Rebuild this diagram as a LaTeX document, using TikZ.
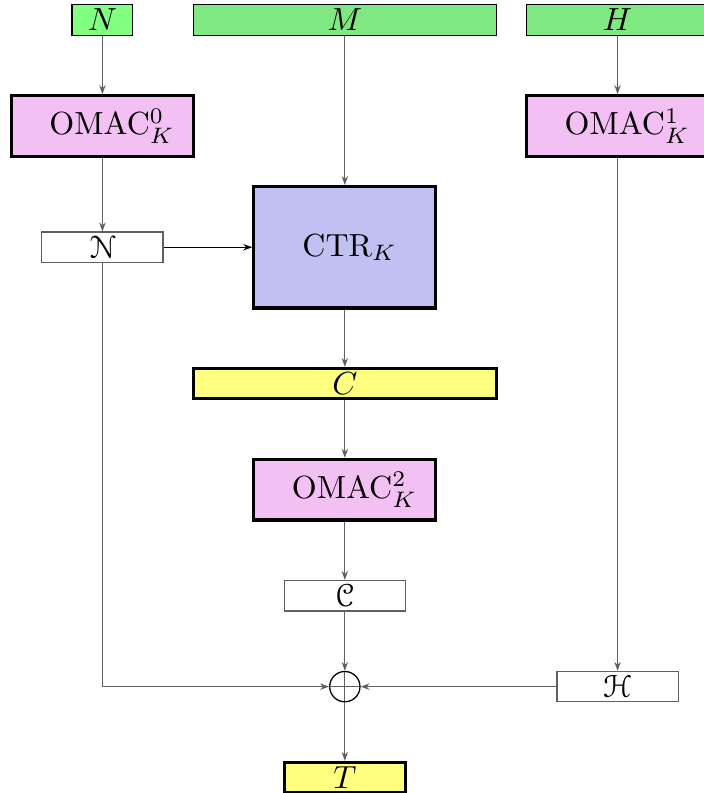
\documentclass[tikz,border=0pt]{standalone}
\usepackage{amsmath,amssymb}
\usepackage[mathcal]{eucal}
\usetikzlibrary{arrows.meta}
\definecolor{NonceGreen}{RGB}{128,255,128}
\definecolor{DataGreen}{RGB}{128,232,128}
\definecolor{OmacPink}{RGB}{242,192,242}
\definecolor{CtrBlue}{RGB}{192,192,242}
\definecolor{OutYellow}{RGB}{255,255,128}
\definecolor{WireGray}{RGB}{96,96,96}

\begin{document}
\begin{tikzpicture}[x=0.333cm, y=0.333cm,
inbox/.style={draw, inner sep=0pt, minimum height=0.333cm},
blockbox/.style={draw, line width=1pt, inner sep=0pt, minimum width=2cm},
calbox/.style={draw=WireGray, inner sep=0pt, minimum width=1.333cm, minimum height=0.333cm},
outbox/.style={draw, line width=1pt, fill=OutYellow, inner sep=0pt, minimum height=0.333cm},
line/.style={draw=WireGray, -{Stealth[length=2.8pt,width=2pt]}}]
\useasboundingbox (-3.38,0.66) rectangle (19.82,-25.51);
\node[inbox, fill=NonceGreen, minimum width=0.667cm] (nonce) at (0,0) {$N$};
\node[inbox, fill=DataGreen, minimum width=3.333cm] (msg) at (8,0) {$M$};
\node[inbox, fill=DataGreen, minimum width=2cm] (hdr) at (17,0) {$H$};
\node[blockbox, fill=OmacPink, minimum height=0.667cm] (omac0) at (0,-3.5) {\hspace{6pt}OMAC$^0_K$};
\node[blockbox, fill=OmacPink, minimum height=0.667cm] (omac1) at (17,-3.5) {\hspace{6pt}OMAC$^1_K$};
\node[calbox] (ncal) at (0,-7.5) {$\mathcal{N}$};
\node[blockbox, fill=CtrBlue, minimum height=1.333cm] (ctr) at (8,-7.5) {\hspace{3pt}CTR$_K$};
\node[outbox, minimum width=3.333cm] (ctext) at (8,-12) {$C$};
\node[blockbox, fill=OmacPink, minimum height=0.667cm] (omac2) at (8,-15.5) {\hspace{6pt}OMAC$^2_K$};
\node[calbox] (ccal) at (8,-19) {$\mathcal{C}$};
\node[circle, draw, inner sep=0pt, minimum size=0.333cm,
path picture={\draw[WireGray] (path picture bounding box.north) -- (path picture bounding box.south)
(path picture bounding box.west) -- (path picture bounding box.east);}] (xor) at (8,-22) {};
\node[calbox] (hcal) at (17,-22) {$\mathcal{H}$};
\node[outbox, minimum width=1.333cm] (tag) at (8,-25) {$T$};
\draw[line] (nonce)--(omac0); \draw[line] (omac0)--(ncal);
\draw[line, draw=black] (ncal)--(ctr); \draw[line] (msg)--(ctr);
\draw[line] (hdr)--(omac1); \draw[line] (omac1)--(hcal);
\draw[line] (ctr)--(ctext); \draw[line] (ctext)--(omac2);
\draw[line] (omac2)--(ccal); \draw[line] (ccal)--(xor);
\draw[line] (ncal) |- (xor); \draw[line] (hcal)--(xor);
\draw[line] (xor)--(tag);
\end{tikzpicture}
\end{document}
